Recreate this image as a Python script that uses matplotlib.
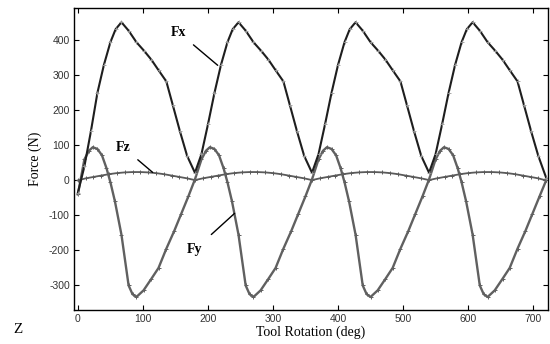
import numpy as np
import matplotlib
matplotlib.use('Agg')
import matplotlib.pyplot as plt

# Fx (dark), Fy and Fz (gray), deg / N
fx_deg = [0, 10, 20, 30, 40, 50, 58, 67, 78, 90, 102, 113, 124, 136, 146, 157, 168,
          180, 190, 200, 210, 220, 230, 238, 247, 258, 270, 282, 293, 304, 316, 326, 337, 348,
          360, 370, 380, 390, 400, 410, 418, 427, 438, 450, 462, 473, 484, 496, 506, 517, 528,
          540, 550, 560, 570, 580, 590, 598, 607, 618, 630, 642, 653, 664, 676, 686, 697, 708,
          720]
fx_val = [-35, 40, 140, 250, 330, 395, 432, 452, 428, 395, 370, 345, 315, 283, 215, 140, 70,
          22, 75, 160, 250, 330, 395, 432, 452, 428, 395, 370, 345, 315, 283, 215, 140, 70,
          22, 75, 160, 250, 330, 395, 432, 452, 428, 395, 370, 345, 315, 283, 215, 140, 70,
          22, 75, 160, 250, 330, 395, 432, 452, 428, 395, 370, 345, 315, 283, 215, 140, 70,
          8]

fy_deg = [0, 10, 17, 23, 30, 37, 44, 50, 57, 67, 78, 84, 90, 101, 113, 124, 136, 148, 159, 170,
          180, 190, 197, 203, 210, 217, 224, 230, 237, 247, 258, 264, 270, 281, 293, 304, 316, 328, 339, 350,
          360, 370, 377, 383, 390, 397, 404, 410, 417, 427, 438, 444, 450, 461, 473, 484, 496, 508, 519, 530,
          540, 550, 557, 563, 570, 577, 584, 590, 597, 607, 618, 624, 630, 641, 653, 664, 676, 688, 699, 710,
          720]
fy_val = [-40, 60, 85, 95, 90, 72, 35, -5, -60, -155, -300, -325, -333, -314, -281, -250, -195, -145, -95, -45,
          3, 60, 85, 95, 90, 72, 35, -5, -60, -155, -300, -325, -333, -314, -281, -250, -195, -145, -95, -45,
          3, 60, 85, 95, 90, 72, 35, -5, -60, -155, -300, -325, -333, -314, -281, -250, -195, -145, -95, -45,
          3, 60, 85, 95, 90, 72, 35, -5, -60, -155, -300, -325, -333, -314, -281, -250, -195, -145, -95, -45,
          0]

fz_deg = list(range(0, 721, 12))
fz_val = [0, 6, 10, 14, 18, 21, 23, 24, 24, 23, 21, 18, 14, 10, 6,
          1, 6, 10, 14, 18, 21, 23, 24, 24, 23, 21, 18, 14, 10, 6,
          1, 6, 10, 14, 18, 21, 23, 24, 24, 23, 21, 18, 14, 10, 6,
          1, 6, 10, 14, 18, 21, 23, 24, 24, 23, 21, 18, 14, 10, 6,
          0]

x_ticks = [0, 100, 200, 300, 400, 500, 600, 700]
y_ticks = [-300, -200, -100, 0, 100, 200, 300, 400]

fig = plt.figure(figsize=(5.5, 3.44), dpi=100)
ax = fig.add_axes([0.1345, 0.099, 0.862, 0.877])

ax.plot(fz_deg, fz_val, color='#5a5a5a', lw=1.3, marker='+', ms=3, mew=0.7)
ax.plot(fy_deg, fy_val, color='#606060', lw=1.7, marker='+', ms=3.5, mew=0.7)
ax.plot(fx_deg, fx_val, color='#1e1e1e', lw=1.5, marker='+', ms=3.5, mew=0.6,
        mec='#999999')

ax.set_xlim(-6, 723)
ax.set_ylim(-370, 492)
ax.set_xticks(x_ticks)
ax.set_yticks(y_ticks)
ax.set_xticklabels([str(v) for v in x_ticks], family='Liberation Sans', fontsize=7.5, color='#333333')
ax.set_yticklabels([str(v) for v in y_ticks], family='Liberation Sans', fontsize=7.5, color='#333333')
ax.tick_params(direction='in', top=True, right=True, length=3.5, width=0.8, pad=3)
for s in ax.spines.values():
    s.set_linewidth(1.0)

ax.set_xlabel('Tool Rotation (deg)', family='Liberation Serif', fontsize=10, labelpad=1)
ax.set_ylabel('Force (N)', family='Liberation Serif', fontsize=10, labelpad=5)

lab = dict(family='Liberation Serif', fontsize=10, fontweight='bold', ha='center', va='center')
ax.annotate('Fx', xy=(215, 329), xytext=(155, 423),
            arrowprops=dict(arrowstyle='-', color='black', lw=1.0, shrinkA=4, shrinkB=0), **lab)
ax.annotate('Fz', xy=(115, 23), xytext=(70, 94),
            arrowprops=dict(arrowstyle='-', color='black', lw=1.0, shrinkA=4, shrinkB=0), **lab)
ax.annotate('Fy', xy=(241, -94), xytext=(180, -197),
            arrowprops=dict(arrowstyle='-', color='black', lw=1.0, shrinkA=6, shrinkB=0), **lab)

fig.text(0.033, 0.022, 'Z', family='Liberation Serif', fontsize=11, ha='center', va='bottom')

fig.savefig('out.png', dpi=100)
